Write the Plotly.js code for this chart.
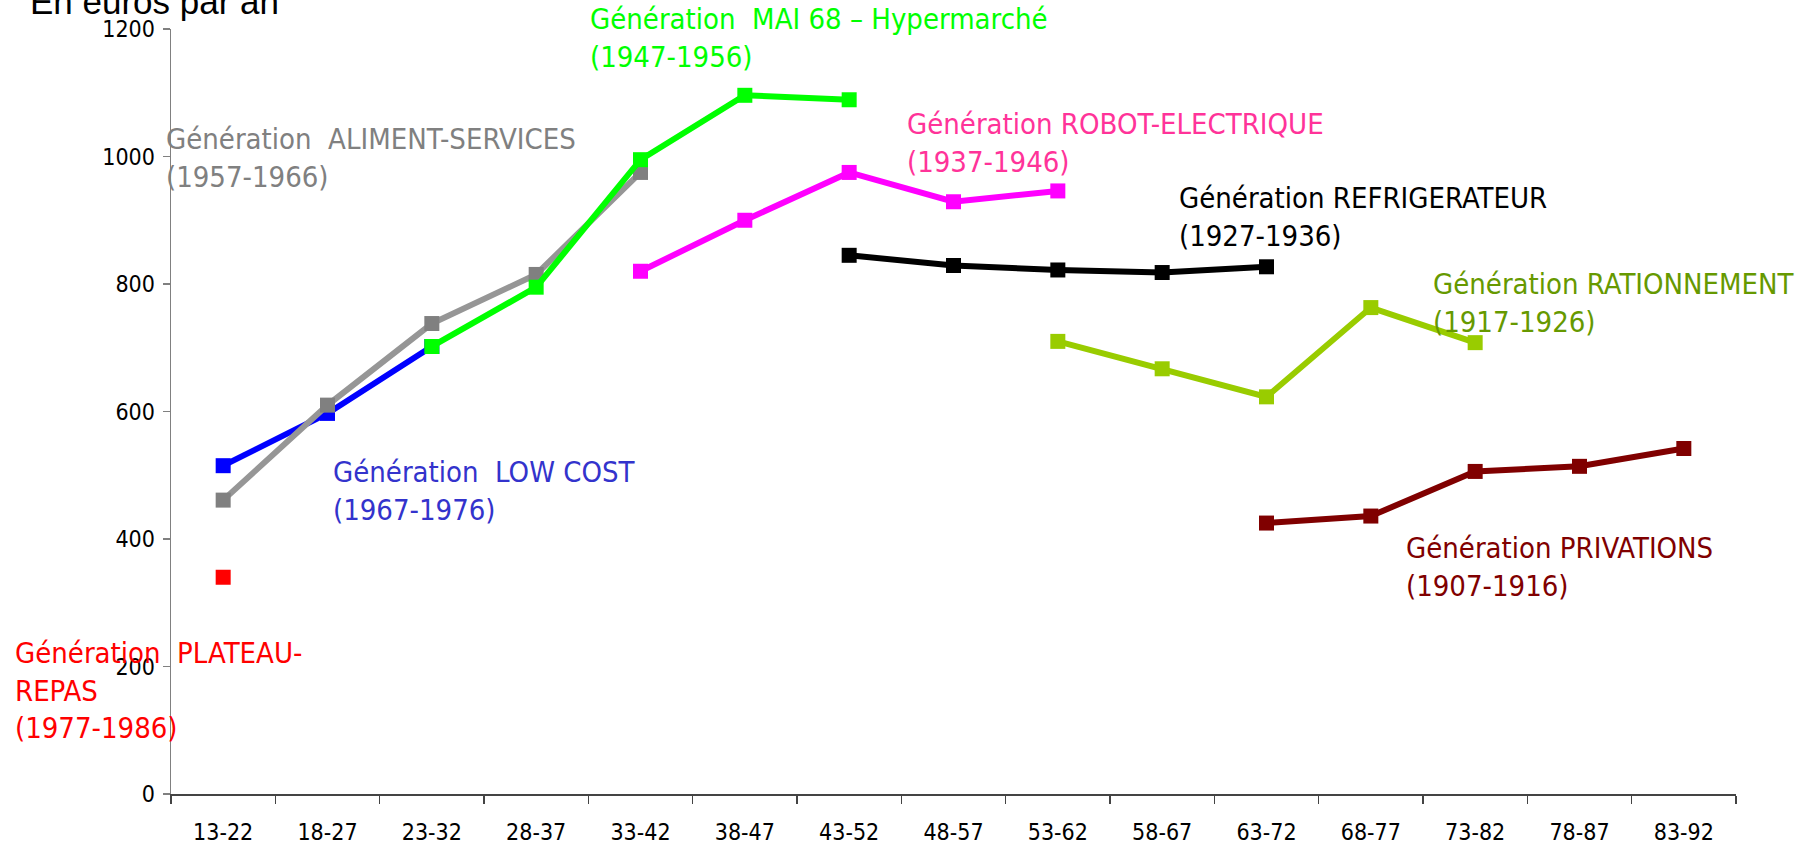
<!DOCTYPE html>
<html>
<head>
<meta charset="utf-8">
<script src="https://cdn.plot.ly/plotly-3.0.1.min.js"></script>
<style>
html,body{margin:0;padding:0;background:#fff;}
#chart{width:1803px;height:844px;}
</style>
</head>
<body>
<div id="chart"></div>
<script>
// Tranches d'âge (axe X)
const categories = ['13-22','18-27','23-32','28-37','33-42','38-47','43-52','48-57','53-62','58-67','63-72','68-77','73-82','78-87','83-92'];

// Séries (euros par an)
const lowCostX = ['13-22','18-27','23-32'];
const lowCostY = [515, 597, 702];

const alimentX = ['13-22','18-27','23-32','28-37','33-42'];
const alimentY = [461, 610, 738, 815, 975];

const mai68X = ['23-32','28-37','33-42','38-47','43-52'];
const mai68Y = [702, 795, 995, 1096, 1089];

const robotX = ['33-42','38-47','43-52','48-57','53-62'];
const robotY = [820, 900, 975, 929, 946];

const refrigX = ['43-52','48-57','53-62','58-67','63-72'];
const refrigY = [845, 829, 822, 818, 827];

const rationX = ['53-62','58-67','63-72','68-77','73-82'];
const rationY = [710, 667, 623, 763, 708];

const privX = ['63-72','68-77','73-82','78-87','83-92'];
const privY = [425, 436, 506, 514, 542];

const plateauX = ['13-22'];
const plateauY = [340];

const yTicks = [0, 200, 400, 600, 800, 1000, 1200];

const NARROW = "'Liberation Sans Narrow', 'Arial Narrow', 'DejaVu Sans Condensed', sans-serif";

function series(x, y, lineColor, markerColor, name) {
  return {
    type: 'scatter', mode: 'lines+markers', name: name,
    x: x, y: y,
    line: {color: lineColor, width: 6},
    marker: {symbol: 'square', size: 15, color: markerColor, line: {width: 0}},
    cliponaxis: false
  };
}

const data = [
  series(lowCostX, lowCostY, '#0000FF', '#0000FF', 'LOW COST'),
  series(alimentX, alimentY, '#969696', '#808080', 'ALIMENT-SERVICES'),
  series(mai68X, mai68Y, '#00FF00', '#00FF00', 'MAI 68'),
  series(robotX, robotY, '#FF00FF', '#FF00FF', 'ROBOT-ELECTRIQUE'),
  series(refrigX, refrigY, '#000000', '#000000', 'REFRIGERATEUR'),
  series(rationX, rationY, '#99CC00', '#99CC00', 'RATIONNEMENT'),
  series(privX, privY, '#800000', '#800000', 'PRIVATIONS'),
  {type:'scatter', mode:'markers', name:'PLATEAU-REPAS', x: plateauX, y: plateauY,
   marker:{symbol:'square', size:15, color:'#FF0000'}, cliponaxis:false}
];

function label(text, x, y, color) {
  return {
    xref:'paper', yref:'paper', x:x, y:y, xanchor:'left', yanchor:'top', align:'left',
    showarrow:false, text: text,
    font:{family: NARROW, size: 29, color: color}
  };
}

const annotations = [
  {xref:'paper', yref:'paper', x:-0.0911, y:1.064, xanchor:'left', yanchor:'top', showarrow:false,
   text:'En euros par an', font:{family:"'Liberation Sans', Arial, sans-serif", size:35, color:'#000'}},
  label('Génération  ALIMENT-SERVICES<br>(1957-1966)', -0.0045, 0.8804, '#808080'),
  label('Génération  MAI 68 – Hypermarché<br>(1947-1956)', 0.2665, 1.0373, '#00FF00'),
  label('Génération ROBOT-ELECTRIQUE<br>(1937-1946)', 0.4690, 0.9006, '#FF3399'),
  label('Génération REFRIGERATEUR<br>(1927-1936)', 0.6428, 0.8033, '#000000'),
  label('Génération RATIONNEMENT<br>(1917-1926)', 0.8051, 0.6919, '#669900'),
  label('Génération  LOW COST<br>(1967-1976)', 0.1022, 0.4456, '#3333CC'),
  label('Génération PRIVATIONS<br>(1907-1916)', 0.7879, 0.3463, '#800000'),
  label('Génération  PLATEAU-<br>REPAS<br>(1977-1986)', -0.1010, 0.2098, '#FF0000')
];

const layout = {
  width: 1803, height: 844,
  margin: {l:171, r:67, t:29, b:50, pad:0},
  paper_bgcolor:'#fff', plot_bgcolor:'#fff',
  showlegend: false,
  font: {family: NARROW, size: 23, color:'#000'},
  xaxis: {
    type:'category', categoryorder:'array', categoryarray: categories,
    tickvals: categories, ticktext: categories,
    range:[-0.5, categories.length - 0.5],
    tickson:'boundaries', ticks:'outside', ticklen:8, tickwidth:1.3, tickcolor:'#444',
    showline:true, linecolor:'#444', linewidth:1.5,
    showgrid:false, zeroline:false, fixedrange:true,
    tickfont:{family: NARROW, size:23, color:'#000'},
    ticklabelstandoff: 17
  },
  yaxis: {
    range:[0, 1200], tickvals: yTicks, ticktext: yTicks.map(String),
    ticks:'outside', ticklen:7, tickwidth:1.3, tickcolor:'#808080',
    showline:true, linecolor:'#808080', linewidth:1.5,
    showgrid:false, zeroline:false, fixedrange:true,
    tickfont:{family: NARROW, size:23, color:'#000'},
    ticklabelstandoff: 3
  },
  annotations: annotations
};

Plotly.newPlot('chart', data, layout, {displayModeBar:false, staticPlot:true});
</script>
</body>
</html>
